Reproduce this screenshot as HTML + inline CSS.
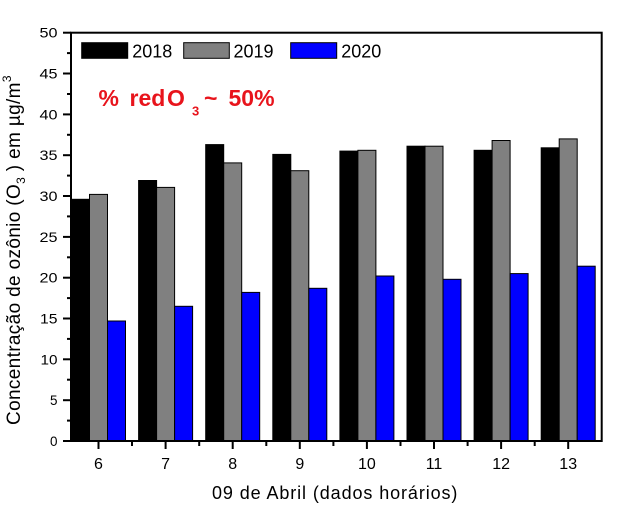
<!DOCTYPE html>
<html>
<head>
<meta charset="utf-8">
<style>
html,body{margin:0;padding:0;background:#fff;}
svg{display:block;}
text{font-family:"Liberation Sans",Arial,sans-serif;}
</style>
</head>
<body>
<svg width="626" height="514" viewBox="0 0 626 514" xmlns="http://www.w3.org/2000/svg">
<rect width="626" height="514" fill="#fff"/>
<!-- bars -->
<g stroke="#000" stroke-width="1">
<rect x="71.5" y="199.3" width="18" height="241.7" fill="#000"/>
<rect x="89.5" y="194.4" width="18" height="246.6" fill="#808080"/>
<rect x="107.5" y="321.0" width="18" height="120.0" fill="#0000ff"/>

<rect x="138.6" y="180.5" width="18" height="260.5" fill="#000"/>
<rect x="156.6" y="187.4" width="18" height="253.6" fill="#808080"/>
<rect x="174.6" y="306.3" width="18" height="134.7" fill="#0000ff"/>

<rect x="205.7" y="144.6" width="18" height="296.4" fill="#000"/>
<rect x="223.7" y="162.9" width="18" height="278.1" fill="#808080"/>
<rect x="241.7" y="292.4" width="18" height="148.6" fill="#0000ff"/>

<rect x="272.8" y="154.4" width="18" height="286.6" fill="#000"/>
<rect x="290.8" y="170.7" width="18" height="270.3" fill="#808080"/>
<rect x="308.8" y="288.3" width="18" height="152.7" fill="#0000ff"/>

<rect x="339.9" y="151.1" width="18" height="289.9" fill="#000"/>
<rect x="357.9" y="150.3" width="18" height="290.7" fill="#808080"/>
<rect x="375.9" y="276.0" width="18" height="165.0" fill="#0000ff"/>

<rect x="407.0" y="146.2" width="18" height="294.8" fill="#000"/>
<rect x="425.0" y="146.2" width="18" height="294.8" fill="#808080"/>
<rect x="443.0" y="279.3" width="18" height="161.7" fill="#0000ff"/>

<rect x="474.1" y="150.3" width="18" height="290.7" fill="#000"/>
<rect x="492.1" y="140.5" width="18" height="300.5" fill="#808080"/>
<rect x="510.1" y="273.6" width="18" height="167.4" fill="#0000ff"/>

<rect x="541.2" y="147.8" width="18" height="293.2" fill="#000"/>
<rect x="559.2" y="138.9" width="18" height="302.1" fill="#808080"/>
<rect x="577.2" y="266.2" width="18" height="174.8" fill="#0000ff"/>
</g>
<!-- frame -->
<rect x="71" y="32.7" width="530.7" height="408.3" fill="none" stroke="#000" stroke-width="2"/>
<!-- y ticks -->
<g stroke="#000" stroke-width="2">
<line x1="63" y1="441" x2="71" y2="441"/>
<line x1="67" y1="420.6" x2="71" y2="420.6"/>
<line x1="63" y1="400.2" x2="71" y2="400.2"/>
<line x1="67" y1="379.7" x2="71" y2="379.7"/>
<line x1="63" y1="359.3" x2="71" y2="359.3"/>
<line x1="67" y1="338.9" x2="71" y2="338.9"/>
<line x1="63" y1="318.5" x2="71" y2="318.5"/>
<line x1="67" y1="298.1" x2="71" y2="298.1"/>
<line x1="63" y1="277.7" x2="71" y2="277.7"/>
<line x1="67" y1="257.3" x2="71" y2="257.3"/>
<line x1="63" y1="236.9" x2="71" y2="236.9"/>
<line x1="67" y1="216.4" x2="71" y2="216.4"/>
<line x1="63" y1="196.0" x2="71" y2="196.0"/>
<line x1="67" y1="175.6" x2="71" y2="175.6"/>
<line x1="63" y1="155.2" x2="71" y2="155.2"/>
<line x1="67" y1="134.8" x2="71" y2="134.8"/>
<line x1="63" y1="114.4" x2="71" y2="114.4"/>
<line x1="67" y1="94.0" x2="71" y2="94.0"/>
<line x1="63" y1="73.5" x2="71" y2="73.5"/>
<line x1="67" y1="53.1" x2="71" y2="53.1"/>
<line x1="63" y1="32.7" x2="71" y2="32.7"/>
</g>
<!-- x ticks -->
<g stroke="#000" stroke-width="2">
<line x1="98.5" y1="442" x2="98.5" y2="449"/>
<line x1="165.6" y1="442" x2="165.6" y2="449"/>
<line x1="232.7" y1="442" x2="232.7" y2="449"/>
<line x1="299.8" y1="442" x2="299.8" y2="449"/>
<line x1="366.9" y1="442" x2="366.9" y2="449"/>
<line x1="434.0" y1="442" x2="434.0" y2="449"/>
<line x1="501.1" y1="442" x2="501.1" y2="449"/>
<line x1="568.2" y1="442" x2="568.2" y2="449"/>
<line x1="132.0" y1="442" x2="132.0" y2="446"/>
<line x1="199.2" y1="442" x2="199.2" y2="446"/>
<line x1="266.3" y1="442" x2="266.3" y2="446"/>
<line x1="333.4" y1="442" x2="333.4" y2="446"/>
<line x1="400.5" y1="442" x2="400.5" y2="446"/>
<line x1="467.6" y1="442" x2="467.6" y2="446"/>
<line x1="534.7" y1="442" x2="534.7" y2="446"/>
</g>
<!-- y tick labels -->
<g font-size="14" fill="#000" text-anchor="end">
<text x="57.5" y="446" textLength="7.5" lengthAdjust="spacingAndGlyphs">0</text>
<text x="57.5" y="405.2" textLength="7.5" lengthAdjust="spacingAndGlyphs">5</text>
<text x="57.5" y="364.3" textLength="17" lengthAdjust="spacingAndGlyphs">10</text>
<text x="57.5" y="323.5" textLength="17.5" lengthAdjust="spacingAndGlyphs">15</text>
<text x="57.5" y="282.7" textLength="18" lengthAdjust="spacingAndGlyphs">20</text>
<text x="57.5" y="241.9" textLength="18" lengthAdjust="spacingAndGlyphs">25</text>
<text x="57.5" y="201.0" textLength="18" lengthAdjust="spacingAndGlyphs">30</text>
<text x="57.5" y="160.2" textLength="18" lengthAdjust="spacingAndGlyphs">35</text>
<text x="57.5" y="119.4" textLength="18" lengthAdjust="spacingAndGlyphs">40</text>
<text x="57.5" y="78.5" textLength="18" lengthAdjust="spacingAndGlyphs">45</text>
<text x="57.5" y="37.7" textLength="18" lengthAdjust="spacingAndGlyphs">50</text>
</g>
<!-- x tick labels -->
<g font-size="16" fill="#000" text-anchor="middle">
<text x="98.5" y="469">6</text>
<text x="165.6" y="469">7</text>
<text x="232.7" y="469">8</text>
<text x="299.8" y="469">9</text>
<text x="366.9" y="469">10</text>
<text x="434.0" y="469">11</text>
<text x="501.1" y="469">12</text>
<text x="568.2" y="469">13</text>
</g>
<!-- legend -->
<g stroke="#000" stroke-width="1">
<rect x="81.7" y="42.7" width="46" height="15.6" fill="#000"/>
<rect x="183.7" y="42.7" width="45.6" height="15.6" fill="#808080"/>
<rect x="290.7" y="42.7" width="46" height="15.6" fill="#0000ff"/>
</g>
<g font-size="18" fill="#000">
<text x="132.2" y="57.7">2018</text>
<text x="233.5" y="57.7">2019</text>
<text x="341.2" y="57.7">2020</text>
</g>
<!-- annotation -->
<g font-size="23" font-weight="bold" fill="#e8141c">
<text x="98.5" y="106">%</text>
<text x="129.5" y="106">red</text>
<text x="167" y="106">O</text>
<text x="192" y="115.5" font-size="13">3</text>
<text x="204" y="106">~</text>
<text x="228.5" y="106">50%</text>
</g>
<!-- axis titles -->
<text x="212" y="499" font-size="18" fill="#000" letter-spacing="0.9">09 de Abril (dados horários)</text>
<text transform="translate(20,425) rotate(-90)" font-size="19" fill="#000" letter-spacing="0.35">Concentração de ozônio (O<tspan font-size="12" dy="5">3</tspan><tspan dy="-5"> ) em µg/m</tspan><tspan font-size="12" dy="-9">3</tspan></text>
</svg>
</body>
</html>
